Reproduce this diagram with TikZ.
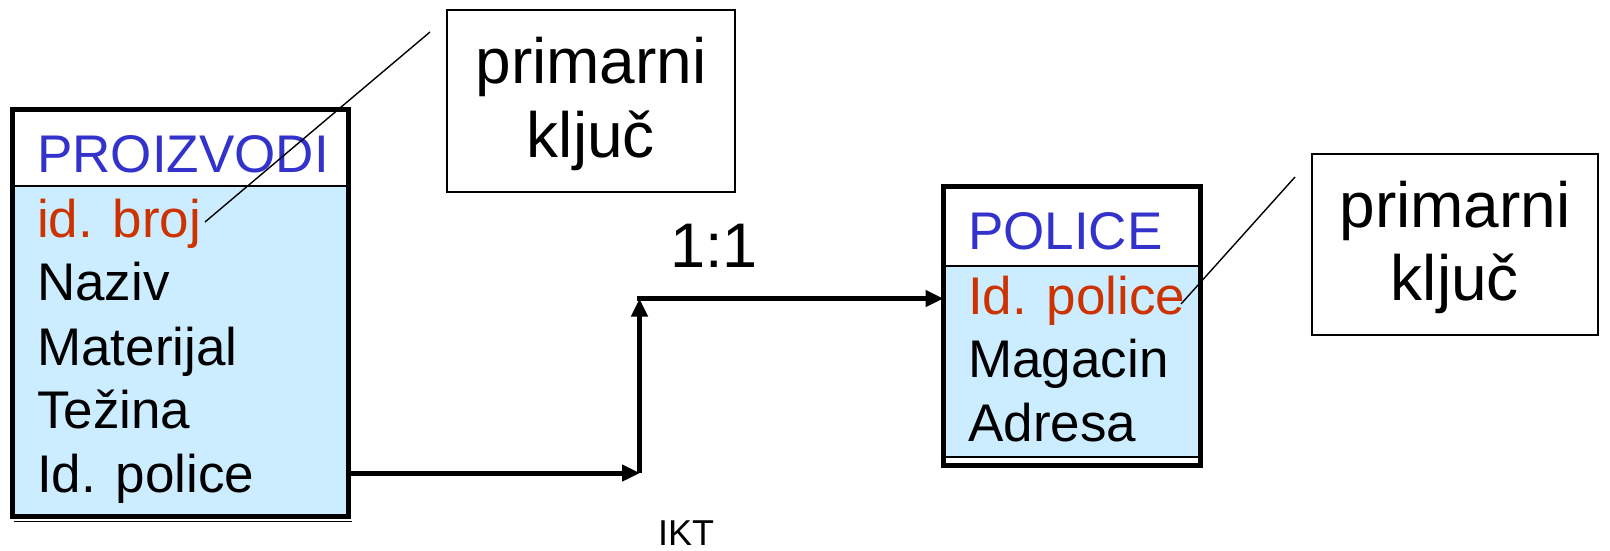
\documentclass[tikz,border=0pt]{standalone}
\usepackage{fontspec}
\setmainfont{Liberation Sans}
\usetikzlibrary{arrows.meta}
\definecolor{tblue}{HTML}{3333CC}
\definecolor{tred}{HTML}{CC3300}
\definecolor{tfill}{HTML}{CCECFF}
\tikzset{
  framebox/.style={draw=black, line width=5pt, inner sep=0pt, outer sep=0pt},
  thinline/.style={draw=black, line width=1.3pt},
  calloutbox/.style={draw=black, line width=1.6pt, inner sep=0pt, outer sep=0pt},
  calloutline/.style={draw=black, line width=1.4pt},
  rowtext/.style={anchor=base west, inner sep=0pt, font=\fontsize{53}{60}\selectfont},
  keytext/.style={anchor=base, inner sep=0pt, font=\fontsize{64}{74}\selectfont},
  arr/.style={draw=black, line width=5pt, -{Triangle[length=18pt,width=16pt]}},
}
\begin{document}
\begin{tikzpicture}[x=1pt,y=-1pt]
\useasboundingbox (0,0) rectangle (1610,550);
% ---- PROIZVODI table ----
\fill[tfill] (14,186) rectangle (347,515);
\fill[white] (14,111) rectangle (347,186);
\node[framebox, minimum width=336.5pt, minimum height=407pt] (proz) at (180.25,313) {};
\draw[thinline] (14,186) -- (347,186);
\draw[thinline] (14,521.5) -- (352,521.5);
\node[rowtext, text=tblue] (pname) at (37,172) {PROIZVODI};
\node[rowtext, text=tred] (pidbroj) at (37,237) {id. broj};
\node[rowtext] (pnaziv) at (37,300) {Naziv};
\node[rowtext] (pmat) at (37,365) {Materijal};
\node[rowtext] (ptez) at (37,428) {Težina};
\node[rowtext] (pidpol) at (37,492) {Id. police};
% ---- POLICE table ----
\fill[tfill] (945,266) rectangle (1199,457);
\fill[white] (945,188) rectangle (1199,266);
\fill[white] (945,457) rectangle (1199,464);
\node[framebox, minimum width=257pt, minimum height=279pt] (pol) at (1072,326) {};
\draw[thinline] (945,266) -- (1199,266);
\draw[thinline] (945,457) -- (1199,457);
\node[rowtext, text=tblue] (lname) at (968,249) {POLICE};
\node[rowtext, text=tred] (lidpol) at (968,314) {Id. police};
\node[rowtext] (lmag) at (968,377) {Magacin};
\node[rowtext] (ladr) at (968,441) {Adresa};
% ---- connector ----
\coordinate (j1) at (640,473);
\coordinate (j2) at (639.5,298.5);
\draw[arr] (j1 -| proz.east) -- (j1);
\draw[arr] (j1 -| j2) -- (j2);
\draw[arr] ([xshift=-2.5pt]j2) -- (j2 -| pol.west);
\node[anchor=base west, inner sep=0pt, font=\fontsize{63}{70}\selectfont] (ratio) at (670,267) {1:1};
\node[anchor=base west, inner sep=0pt, font=\fontsize{36}{42}\selectfont] (ikt) at (658,545) {IKT};
% ---- callouts ----
\node[calloutbox, minimum width=288pt, minimum height=182pt] (callA) at (591,101) {};
\node[keytext] (callAa) at (591,83) {primarni};
\node[keytext] (callAb) at (591,157) {ključ};
\node[calloutbox, minimum width=286pt, minimum height=181pt] (callB) at (1455,244.5) {};
\node[keytext] (callBa) at (1455,227) {primarni};
\node[keytext] (callBb) at (1455,300) {ključ};
\coordinate (la1) at (430,32);
\coordinate (la2) at (205,222);
\coordinate (lb1) at (1295,177);
\coordinate (lb2) at (1181,304);
\draw[calloutline] (la1) -- (la2);
\draw[calloutline] (lb1) -- (lb2);
\end{tikzpicture}
\end{document}
